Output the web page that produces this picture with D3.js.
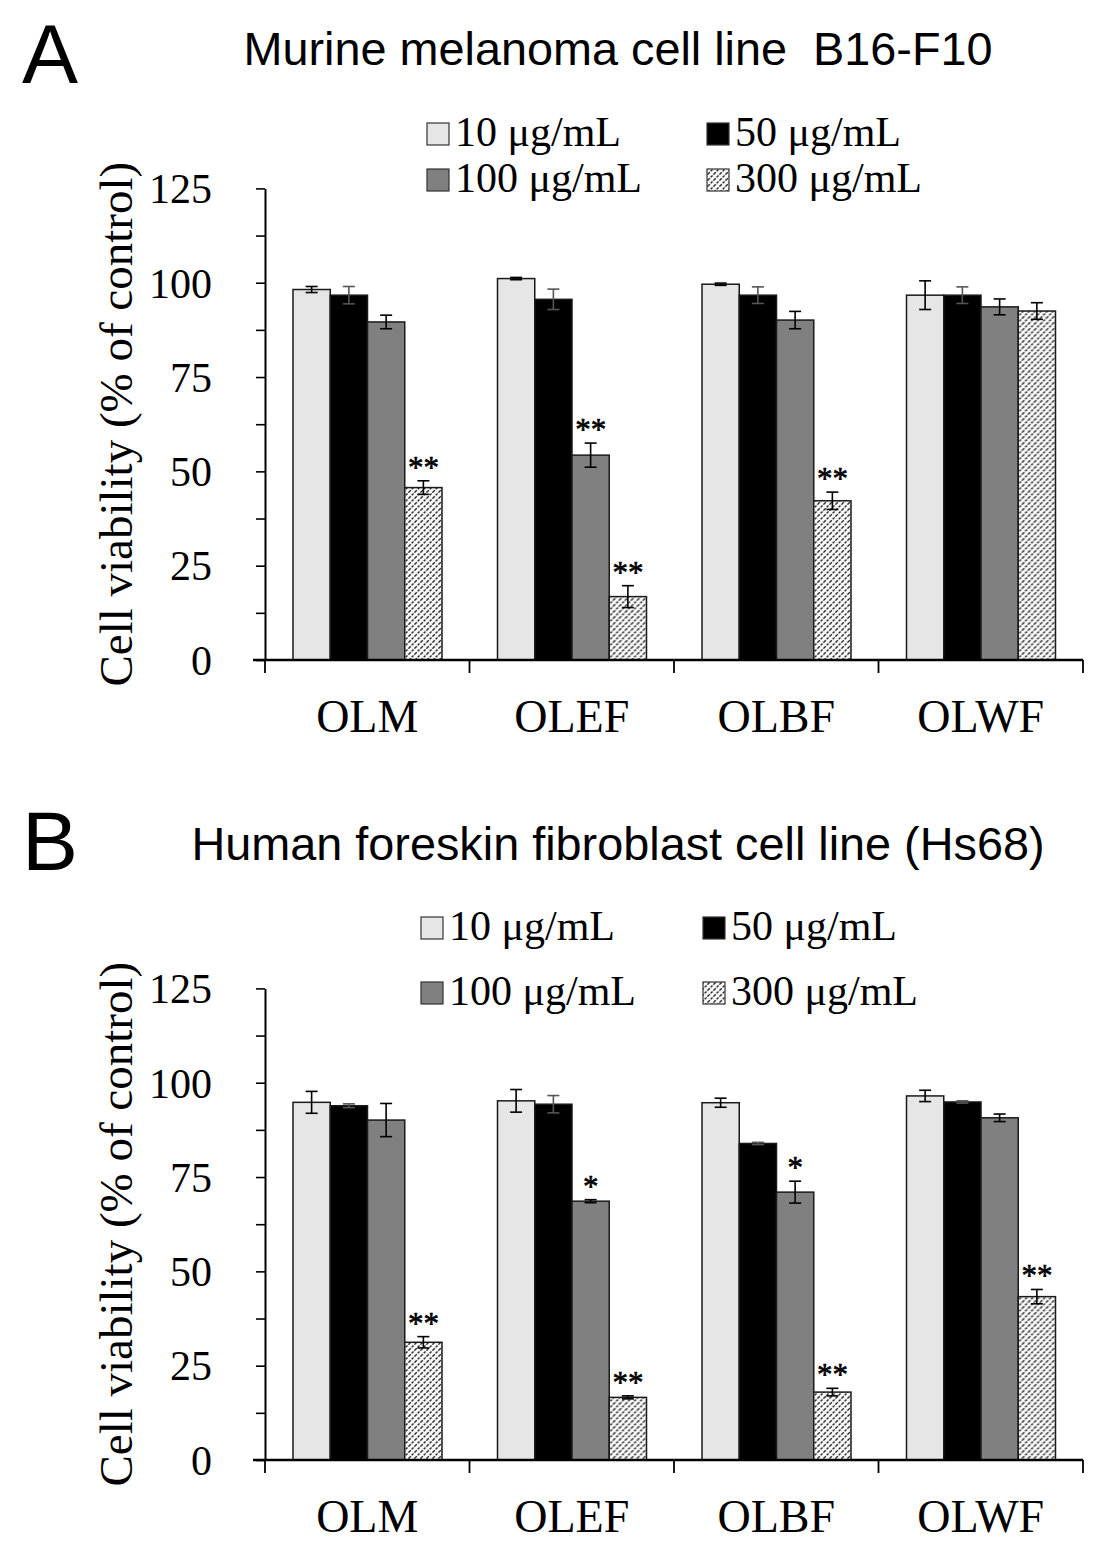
<!DOCTYPE html>
<html>
<head>
<meta charset="utf-8">
<script src="https://cdn.jsdelivr.net/npm/d3@7"></script>
<style>
  body { margin: 0; background: #fff; }
  .serif { font-family: "Liberation Serif", "Times New Roman", serif; }
  .sans { font-family: "Liberation Sans", Arial, sans-serif; }
</style>
</head>
<body>
<div class="chart"></div>
<script>
// DATA ------------------------------------

const categories = ["OLM", "OLEF", "OLBF", "OLWF"];
const doses = ["10 μg/mL", "50 μg/mL", "100 μg/mL", "300 μg/mL"];
const yTicks = [0, 25, 50, 75, 100, 125];

// panel A: murine melanoma B16-F10 (mean, error)
const melanoma10 = [98.2, 101.1, 99.6, 96.7];
const melanoma50 = [96.7, 95.6, 96.7, 96.7];
const melanoma100 = [89.6, 54.3, 90.1, 93.6];
const melanoma300 = [45.7, 16.8, 42.2, 92.5];
const melanoma10Err = [0.8, 0.3, 0.3, 3.8];
const melanoma50Err = [2.3, 2.7, 2.2, 2.2];
const melanoma100Err = [1.8, 3.2, 2.3, 2.1];
const melanoma300Err = [1.8, 2.9, 2.3, 2.2];
const melanomaStars100 = ["", "**", "", ""];
const melanomaStars300 = ["**", "**", "**", ""];

// panel B: human foreskin fibroblast Hs68
const fibro10 = [94.8, 95.2, 94.7, 96.5];
const fibro50 = [93.9, 94.3, 83.9, 94.9];
const fibro100 = [90.1, 68.6, 71.0, 90.7];
const fibro300 = [31.2, 16.6, 18.0, 43.3];
const fibro10Err = [2.9, 3.0, 1.2, 1.5];
const fibro50Err = [0.5, 2.3, 0.3, 0.3];
const fibro100Err = [4.4, 0.4, 2.9, 1.0];
const fibro300Err = [1.5, 0.4, 1.0, 1.9];
const fibroStars100 = ["", "*", "*", ""];
const fibroStars300 = ["**", "**", "**", "**"];

// CHART INIT ------------------------------

const totalWidth = 1107;
const totalHeight = 1558;

const svg = d3
  .select(".chart")
  .append("svg")
  .attr("width", totalWidth)
  .attr("height", totalHeight);

svg.append("rect").attr("width", totalWidth).attr("height", totalHeight).attr("fill", "#fff");

// hatch pattern for 300 μg/mL
const defs = svg.append("defs");
const pat = defs
  .append("pattern")
  .attr("id", "hatch")
  .attr("patternUnits", "userSpaceOnUse")
  .attr("width", 6)
  .attr("height", 6);
pat.append("rect").attr("width", 6).attr("height", 6).attr("fill", "#f7f7f7");
pat
  .append("path")
  .attr("d", "M-1.5,1.5 l3,-3 M0,6 l6,-6 M4.5,7.5 l3,-3")
  .attr("stroke", "#2e2e2e")
  .attr("stroke-width", 1.4)
  .attr("stroke-dasharray", "2.6,1.2");

const fills = ["#e6e6e6", "#000000", "#808080", "url(#hatch)"];

// PANEL DRAW FUNCTION ---------------------
function drawPanel(p) {
  const g = svg.append("g");

  const xScale = d3.scaleBand().domain(categories).range([265, 1083]);
  const xInner = d3.scaleBand().domain(doses).range([28, 177]);
  const yScale = d3.scaleLinear().domain([0, 125]).range([p.y0, p.y0 - 471.6]);

  // panel letter and title
  g.append("text")
    .attr("class", "sans")
    .attr("x", 22)
    .attr("y", p.letterY)
    .attr("font-size", 84)
    .text(p.letter);

  g.append("text")
    .attr("class", "sans")
    .attr("x", 618)
    .attr("y", p.titleY)
    .attr("text-anchor", "middle")
    .attr("font-size", 46.8)
    .style("white-space", "pre")
    .text(p.title);

  // legend
  doses.forEach((d, i) => {
    const col = i % 2;
    const row = Math.floor(i / 2);
    const lx = p.legendX[col];
    const ly = p.legendY[row];
    g.append("rect")
      .attr("x", lx)
      .attr("y", ly - 23)
      .attr("width", 22)
      .attr("height", 22)
      .attr("fill", fills[i])
      .attr("stroke", "#333")
      .attr("stroke-width", 1.2);
    g.append("text")
      .attr("class", "serif")
      .attr("x", lx + 28)
      .attr("y", ly)
      .attr("font-size", 42)
      .text(d);
  });

  // y axis
  const yAxis = d3
    .axisLeft(yScale)
    .tickValues(d3.range(0, 125.1, 12.5))
    .tickFormat((v) => (yTicks.includes(v) ? v : ""))
    .tickSize(9)
    .tickSizeOuter(0)
    .tickPadding(44);

  const ya = g.append("g").attr("transform", "translate(265,0)").call(yAxis);
  ya.select(".domain").attr("stroke", "#000").attr("stroke-width", 2);
  ya.selectAll(".tick line").attr("stroke", "#000").attr("stroke-width", 1.6);
  ya.selectAll(".tick text")
    .attr("class", "serif")
    .attr("font-size", 42)
    .attr("fill", "#000")
    .attr("dy", "0.34em");

  g.append("text")
    .attr("class", "serif")
    .attr("transform", `translate(132, ${yScale(62.5)}) rotate(-90)`)
    .attr("text-anchor", "middle")
    .attr("font-size", 47)
    .text("Cell viability (% of control)");

  // bars
  const groups = g
    .selectAll(".grp")
    .data(categories)
    .enter()
    .append("g")
    .attr("class", "grp")
    .attr("transform", (c) => `translate(${xScale(c)},0)`);

  groups.each(function (c, ci) {
    const grp = d3.select(this);
    doses.forEach((d, di) => {
      const v = p.values[di][ci];
      const e = p.errors[di][ci];
      const x = xInner(d);
      const w = xInner.bandwidth();
      grp
        .append("rect")
        .attr("x", x)
        .attr("y", yScale(v))
        .attr("width", w)
        .attr("height", yScale(0) - yScale(v))
        .attr("fill", fills[di])
        .attr("stroke", "#1a1a1a")
        .attr("stroke-width", 1.5);

      // error bar
      const cx = x + w / 2;
      const eb = grp.append("g").attr("stroke", di === 1 ? "#555" : "#000").attr("stroke-width", 1.6);
      eb.append("line").attr("x1", cx).attr("x2", cx).attr("y1", yScale(v + e)).attr("y2", yScale(v - e));
      eb.append("line").attr("x1", cx - 6).attr("x2", cx + 6).attr("y1", yScale(v + e)).attr("y2", yScale(v + e));
      eb.append("line").attr("x1", cx - 6).attr("x2", cx + 6).attr("y1", yScale(v - e)).attr("y2", yScale(v - e));

      const star = p.stars[di] ? p.stars[di][ci] : "";
      if (star) {
        grp
          .append("text")
          .attr("class", "serif")
          .attr("x", cx)
          .attr("y", yScale(v + e) - 3)
          .attr("text-anchor", "middle")
          .attr("font-size", 31)
          .attr("stroke", "#000")
          .attr("stroke-width", 0.6)
          .text(star);
      }
    });
  });

  // x axis: baseline, boundary ticks, category labels
  g.append("line")
    .attr("x1", 253)
    .attr("x2", xScale.range()[1])
    .attr("y1", yScale(0))
    .attr("y2", yScale(0))
    .attr("stroke", "#000")
    .attr("stroke-width", 2.6);

  const bounds = categories.map((c) => xScale(c)).concat([xScale.range()[1]]);
  g.selectAll(".xtick")
    .data(bounds)
    .enter()
    .append("line")
    .attr("x1", (b) => b)
    .attr("x2", (b) => b)
    .attr("y1", yScale(0))
    .attr("y2", yScale(0) + 13)
    .attr("stroke", "#000")
    .attr("stroke-width", 1.8);

  g.selectAll(".xlabel")
    .data(categories)
    .enter()
    .append("text")
    .attr("class", "serif")
    .attr("x", (c) => xScale(c) + xScale.bandwidth() / 2)
    .attr("y", yScale(0) + 72)
    .attr("text-anchor", "middle")
    .attr("font-size", 46)
    .text((c) => c);
}

// CHART PANELS ----------------------------

drawPanel({
  letter: "A",
  letterY: 83,
  title: "Murine melanoma cell line  B16-F10",
  titleY: 65,
  legendX: [427, 707],
  legendY: [146, 192],
  y0: 660,
  values: [melanoma10, melanoma50, melanoma100, melanoma300],
  errors: [melanoma10Err, melanoma50Err, melanoma100Err, melanoma300Err],
  stars: [null, null, melanomaStars100, melanomaStars300],
});

drawPanel({
  letter: "B",
  letterY: 870,
  title: "Human foreskin fibroblast cell line (Hs68)",
  titleY: 860,
  legendX: [421, 703],
  legendY: [940, 1005],
  y0: 1460,
  values: [fibro10, fibro50, fibro100, fibro300],
  errors: [fibro10Err, fibro50Err, fibro100Err, fibro300Err],
  stars: [null, null, fibroStars100, fibroStars300],
});
</script>
</body>
</html>
